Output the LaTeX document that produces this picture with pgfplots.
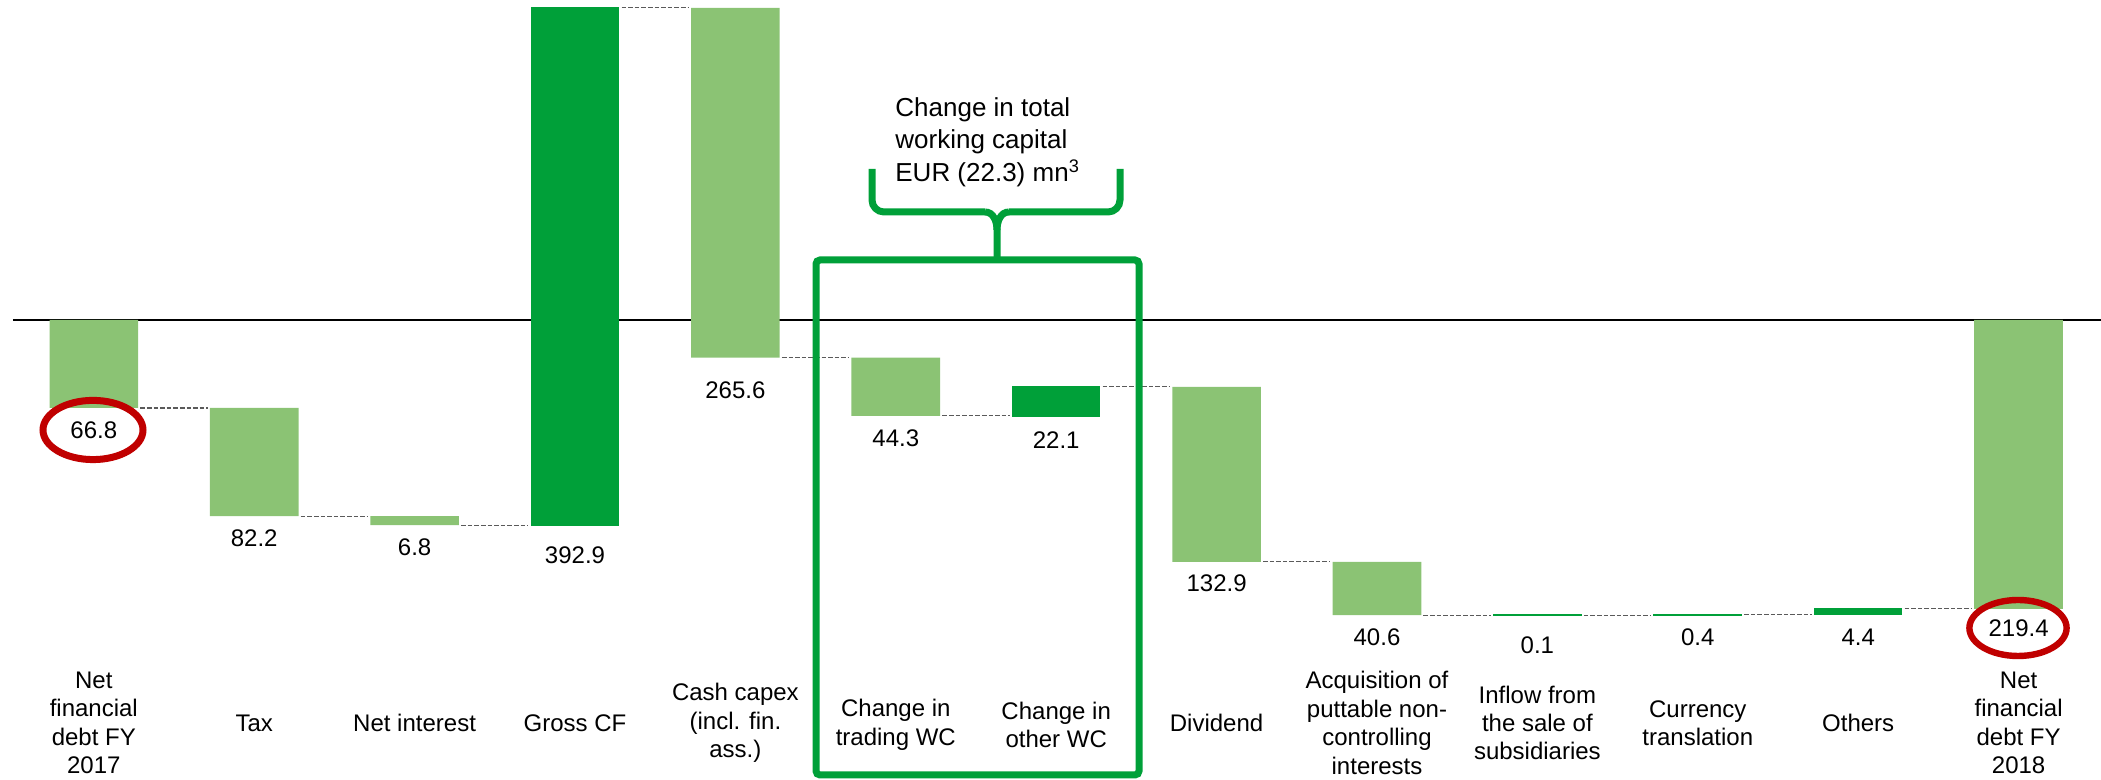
\documentclass[border=0pt]{standalone}
\usepackage{fontspec}
\setmainfont{Liberation Sans}
\usepackage{pgfplots}
\pgfplotsset{compat=1.18}

\definecolor{lgreen}{RGB}{139,195,116}
\definecolor{dgreen}{RGB}{0,160,57}
\definecolor{circred}{RGB}{192,0,0}
\definecolor{conn}{RGB}{90,90,90}

% one pixel of the reference = 0.5pt
\pgfplotsset{wf/.style={
    scale only axis,width=1050.5pt,height=390pt,
    xmin=-0.585,xmax=12.514,ymin=-349.3,ymax=243.0,
    hide axis,clip=false}}

\begin{document}
\begin{tikzpicture}
% zero line and connectors
\begin{axis}[wf]
    \addplot[black,line width=0.8pt,mark=none] coordinates {(-0.504,0)(12.514,0)};
    \addplot[conn,line width=0.6pt,dash pattern=on 2.3pt off 1pt,mark=none,unbounded coords=jump]
        coordinates {(0.29,-66.8)(0.71,-66.8)(0.5,nan)
                     (1.29,-149.0)(1.71,-149.0)(1.5,nan)
                     (2.29,-155.8)(2.71,-155.8)(2.5,nan)
                     (3.29,237.1)(3.71,237.1)(3.5,nan)
                     (4.29,-28.5)(4.71,-28.5)(4.5,nan)
                     (5.29,-72.8)(5.71,-72.8)(5.5,nan)
                     (6.29,-50.7)(6.71,-50.7)(6.5,nan)
                     (7.29,-183.6)(7.71,-183.6)(7.5,nan)
                     (8.29,-224.2)(8.71,-224.2)(8.5,nan)
                     (9.29,-224.1)(9.71,-224.1)(9.5,nan)
                     (10.29,-223.7)(10.71,-223.7)(10.5,nan)
                     (11.29,-219.3)(11.71,-219.3)};
\end{axis}
% increases of debt (light)
\begin{axis}[wf,ybar stacked,stack negative=on previous,bar width=44.3pt]
    \addplot[draw=none,fill=none] coordinates {(0,0)(1,-66.8)(2,-149.0)(4,237.1)(5,-28.5)(7,-50.7)(8,-183.6)(12,0)};
    \addplot[draw=none,fill=lgreen] coordinates {(0,-66.8)(1,-82.2)(2,-6.8)(4,-265.6)(5,-44.3)(7,-132.9)(8,-40.6)(12,-219.4)};
\end{axis}
% decreases of debt (dark)
\begin{axis}[wf,ybar stacked,stack negative=on previous,bar width=43.6pt]
    \addplot[draw=none,fill=none] coordinates {(3,-155.8)(6,-72.8)(9,-224.2)(10,-224.1)(11,-223.7)};
    \addplot[draw=dgreen,line width=0.7pt,fill=dgreen] coordinates {(3,392.9)(6,22.1)(9,0.1)(10,0.4)(11,4.4)};
\end{axis}

\begin{scope}[shift={(0,390pt)},x=0.5pt,y=-0.5pt]
    % value labels
    \begin{scope}[every node/.style={font=\fontsize{12}{14.2}\selectfont,inner sep=0pt}]
        \node at (93.8,430) {66.8};
        \node at (254.2,538) {82.2};
        \node at (414.6,547) {6.8};
        \node at (575.0,555) {392.9};
        \node at (735.4,390) {265.6};
        \node at (895.8,438) {44.3};
        \node at (1056.2,440) {22.1};
        \node at (1216.6,583) {132.9};
        \node at (1377.0,637) {40.6};
        \node at (1537.4,645) {0.1};
        \node at (1697.8,637) {0.4};
        \node at (1858.2,637) {4.4};
        \node at (2018.6,628) {219.4};
    \end{scope}
    % category labels
    \begin{scope}[every node/.style={font=\fontsize{12}{14.2}\selectfont,align=center,inner sep=0pt}]
        \node at (93.8,723) {Net\\financial\\debt FY\\2017};
        \node at (254.2,723) {Tax};
        \node at (414.6,723) {Net interest};
        \node at (575.0,723) {Gross CF};
        \node at (735.4,723) {Cash capex\\(incl. fin.\\ass.)};
        \node at (895.8,725) {Change in\\trading WC};
        \node at (1056.2,725) {Change in\\other WC};
        \node at (1216.6,723) {Dividend};
        \node at (1377.0,723) {Acquisition of\\puttable non-\\controlling\\interests};
        \node at (1537.4,723) {Inflow from\\the sale of\\subsidiaries};
        \node at (1697.8,723) {Currency\\translation};
        \node at (1858.2,723) {Others};
        \node at (2018.6,723) {Net\\financial\\debt FY\\2018};
    \end{scope}
    % red circles
    \draw[circred,line width=3.5pt] (93,430) ellipse [x radius=25pt,y radius=14.8pt];
    \draw[circred,line width=3.2pt] (2018,628) ellipse [x radius=24.3pt,y radius=14pt];
    % working capital box and brace
    \draw[dgreen,line width=3.5pt,rounded corners=2pt] (816,260) rectangle (1139,775);
    \draw[dgreen,line width=3.5pt,rounded corners=6pt] (872,169) -- (872,212) -- (985,212);
    \draw[dgreen,line width=3.5pt,rounded corners=6pt] (1120,169) -- (1120,212) -- (1009,212);
    \draw[dgreen,line width=3.5pt] (985,212) to[out=0,in=90] (997,230) -- (997,260);
    \draw[dgreen,line width=3.5pt] (1009,212) to[out=180,in=90] (997,230);
    \node[font=\fontsize{13}{16.3}\selectfont,align=left,anchor=west,inner sep=0pt] at (895,142)
        {Change in total\\working capital\\EUR (22.3) mn\textsuperscript{3}};
\end{scope}
\pgfresetboundingbox
\path (0,0) rectangle (1050.5pt,390pt);
\end{tikzpicture}
\end{document}
